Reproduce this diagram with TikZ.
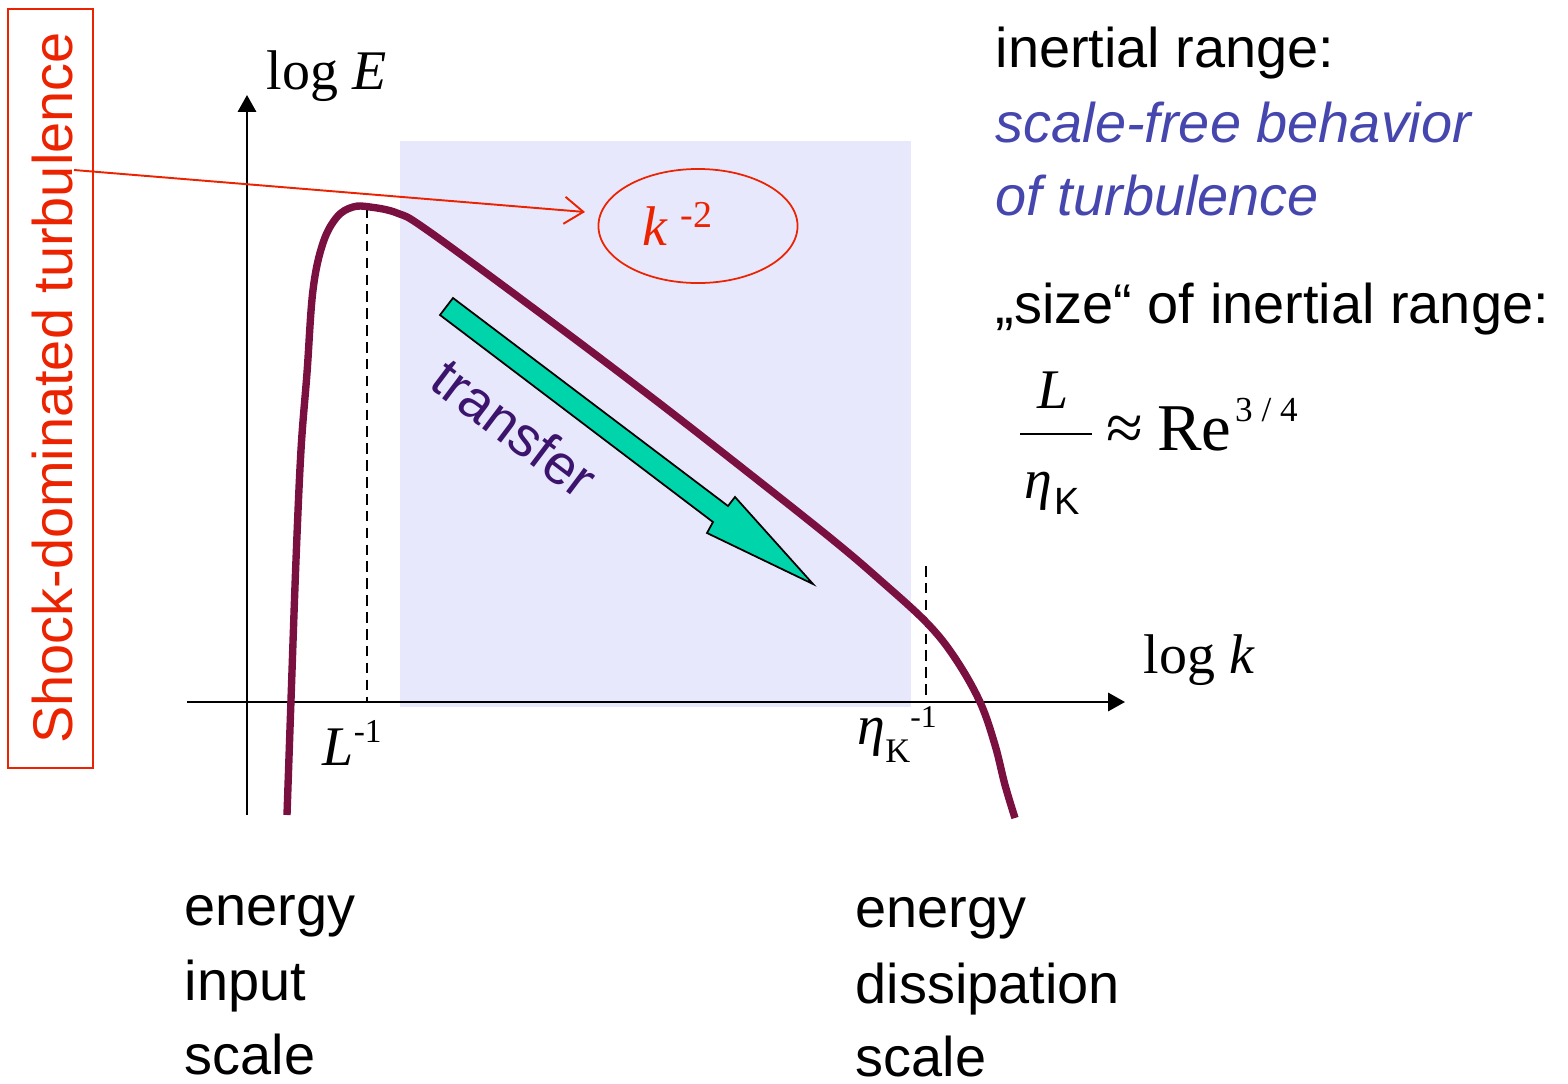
\documentclass[tikz,border=0pt]{standalone}
\usepackage{fontspec}
\setmainfont{Liberation Sans}
\newfontfamily\timesfont{Liberation Serif}
\usepackage{tikz}
\usetikzlibrary{
  arrows.meta,
  shapes.geometric
}
\definecolor{shockred}{RGB}{235,35,0}
\definecolor{specmag}{RGB}{122,16,64}
\definecolor{rangeblue}{RGB}{232,232,252}
\definecolor{freeblue}{RGB}{70,70,175}
\definecolor{transgreen}{RGB}{0,212,170}
\definecolor{transpurple}{RGB}{60,20,110}
\newcommand{\bodysize}{\fontsize{15.9}{19}\selectfont}

\begin{document}
\begin{tikzpicture}[x=0.01cm, y=-0.01cm,
  txt/.style={anchor=base west, inner sep=0pt, font=\bodysize},
  serif/.style={anchor=base west, inner sep=0pt, font=\timesfont\bodysize},
  axis/.style={line width=0.6pt, -{Triangle[length=4.8pt,width=5.2pt]}},
  guide/.style={line width=0.45pt, dash pattern=on 3pt off 1.8pt},
  spectrum/.style={draw=specmag, line width=2.1pt}]
  \useasboundingbox (0,0) rectangle (1568,1084);

  \fill[rangeblue] (400,141) rectangle (911,707);

  \draw[axis] (247,815) -- (247,95);
  \draw[axis] (187,702) -- (1125,702);
  \draw[guide] (367,207) -- (367,702);
  \draw[guide] (926,566) -- (926,702);

  \draw[spectrum] plot[smooth, tension=0.6] coordinates {
    (287,815) (291,700) (296,560) (301,450) (307,373) (313,290) (323,243)
    (337,217) (353,207) (370,207) (397,213) (427,230) (540,313) (650,396)
    (750,474) (833,540) (880,580) (927,623) (955,658) (980,702) (995,745)
    (1005,785) (1015,818)};

  \draw[fill=transgreen, line width=0.5pt] (453,298) -- (728,506) -- (735,497)
    -- (813,584) -- (707,533) -- (713,522) -- (440,315) -- cycle;
  \node[rotate=-37, font=\bodysize, text=transpurple] (transfer) at (515,428) {transfer};

  \node[ellipse, draw=shockred, line width=0.5pt, minimum width=1.99cm,
    minimum height=1.14cm, inner sep=0pt] (kell) at (698,226) {};
  \node[serif, text=shockred] (kslope) at (642,245)
    {\textit{k}\hspace{3.6pt}\raisebox{5.1pt}{\fontsize{10.8}{12}\selectfont -2}};

  \draw[shockred, line width=0.55pt] (8,9) rectangle (93,768);
  \node[rotate=90, anchor=base, inner sep=0pt, text=shockred, font=\bodysize]
    (shock) at (72,388) {Shock-dominated turbulence};
  \coordinate (shockpt) at (74,170);
  \coordinate (kpoint) at (585,212);
  \draw[shockred, line width=0.55pt, -{Straight Barb[length=5.4pt,width=7.7pt]}]
    (shockpt) -- (kpoint);

  \node[serif] (logE) at (266,89) {log \textit{E}};
  \node[serif] (logk) at (1143,673) {log \textit{k}};
  \node[serif] (Linv) at (322,765)
    {\textit{L}\raisebox{6.3pt}{\fontsize{9.5}{10}\selectfont -1}};
  \node[serif] (etainv) at (857,744)
    {\textit{η}\raisebox{-5.4pt}{\fontsize{9.8}{10}\selectfont K}\raisebox{4.6pt}{\fontsize{9}{10}\selectfont -1}};

  \node[serif] (fracL) at (1037,408) {\textit{L}};
  \draw[line width=0.6pt] (1020,434) -- (1092,434);
  \node[serif] (fraceta) at (1024,498)
    {\textit{η}\hspace{0.5pt}\raisebox{-4.8pt}{\normalfont\fontsize{10.8}{12}\selectfont K}};
  \node[serif] (approxRe) at (1106,450)
    {\fontsize{19}{21}\selectfont ≈\hspace{4pt}Re\hspace{1pt}\raisebox{8pt}{\fontsize{10}{11}\selectfont 3\hspace{2.5pt}/\hspace{2.5pt}4}};

  \node[txt] (ir1) at (995,67) {inertial range:};
  \node[txt, text=freeblue, font=\bodysize\itshape] (ir2) at (995,142) {scale-free behavior};
  \node[txt, text=freeblue, font=\bodysize\itshape] (ir3) at (995,215) {of turbulence};
  \node[txt] (ir4) at (995,323) {„size“ of inertial range:};

  \node[txt] (in1) at (184,925) {energy};
  \node[txt] (in2) at (184,1000) {input};
  \node[txt] (in3) at (184,1074) {scale};
  \node[txt] (dis1) at (855,927) {energy};
  \node[txt] (dis2) at (855,1003) {dissipation};
  \node[txt] (dis3) at (855,1076) {scale};
\end{tikzpicture}
\end{document}
